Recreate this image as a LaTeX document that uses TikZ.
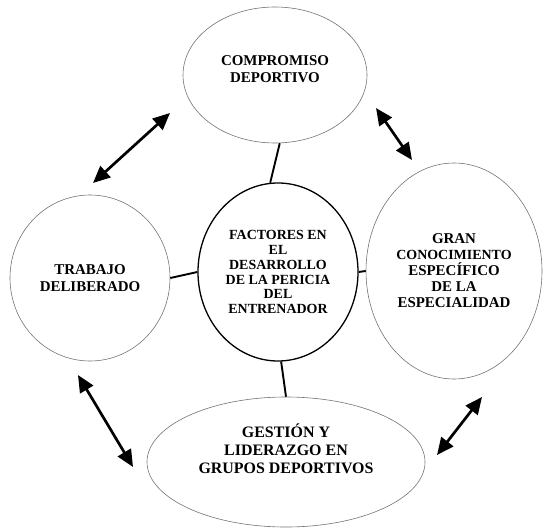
\documentclass[tikz,border=0pt]{standalone}
\usepackage{fontspec}
\setmainfont{Liberation Serif}
\usetikzlibrary{shapes.geometric,arrows.meta}
\tikzset{
  oval/.style={ellipse,draw=black!55,line width=0.6bp,inner sep=0pt},
  txt/.style={align=center,font=\bfseries\fontsize{15}{17}\selectfont},
  link/.style={line width=1.9bp},
  dblarrow/.style={line width=2.7bp,{Triangle[length=17bp,width=15bp]}-{Triangle[length=17bp,width=15bp]}}
}
\begin{document}
\begin{tikzpicture}[x=1bp,y=-1bp]
\useasboundingbox (0,0) rectangle (543,528);
% ovals
\node[oval,minimum width=184bp,minimum height=136bp](comp) at (275,75){};
\node[txt](comptxt) at ([yshift=6bp]comp.center){COMPROMISO\\DEPORTIVO};
\node[oval,draw=black,line width=1.3bp,minimum width=160bp,minimum height=178bp,txt,font=\bfseries\fontsize{14}{15}\selectfont](fact) at (278,272){FACTORES EN\\EL\\DESARROLLO\\DE LA PERICIA\\DEL\\ENTRENADOR};
\node[oval,minimum width=160bp,minimum height=166bp,txt](trab) at (90,278){TRABAJO\\DELIBERADO};
\node[oval,minimum width=176bp,minimum height=216bp,txt,font=\bfseries\fontsize{15}{16}\selectfont](conoc) at (454,271){GRAN\\{\fontsize{14}{16}\selectfont CONOCIMIENTO}\\ESPECÍFICO\\DE LA\\ESPECIALIDAD};
\node[oval,minimum width=278bp,minimum height=130bp](gest) at (286,462){};
\node[txt,font=\bfseries\fontsize{16}{18}\selectfont](gesttxt) at ([yshift=13bp]gest.center){GESTIÓN Y\\LIDERAZGO EN\\GRUPOS DEPORTIVOS};
% links
\draw[link](comp.-86)--(fact.95);
\draw[link](trab.east)--(fact.west);
\draw[link](fact.east)--(conoc.west);
\draw[link](fact.-88)--(gest.north);
% arrows
\coordinate(a1)at(93,183);\coordinate(b1)at(170,113);
\coordinate(a2)at(376,108);\coordinate(b2)at(412,160);
\coordinate(a3)at(78,375);\coordinate(b3)at(133,467);
\coordinate(a4)at(437,455);\coordinate(b4)at(482,397);
\foreach \i in {1,...,4}\draw[dblarrow](a\i)--(b\i);
\end{tikzpicture}
\end{document}
